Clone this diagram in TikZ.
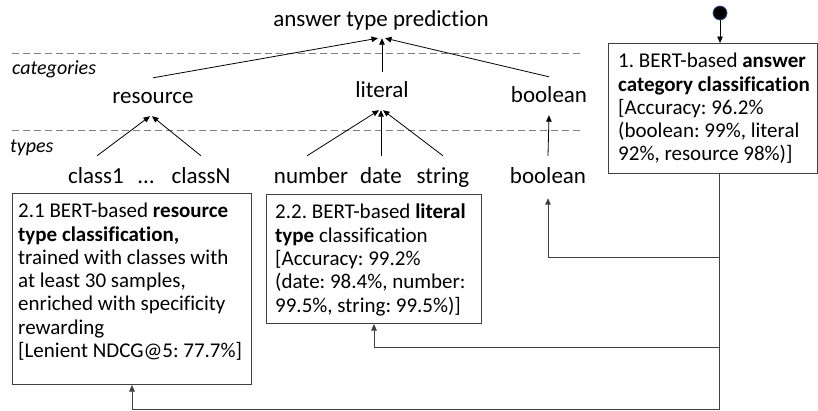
\documentclass[tikz,border=0pt]{standalone}
\usepackage{fontspec}
\setmainfont{Carlito}[Ligatures=NoCommon]
\usetikzlibrary{arrows.meta}
\definecolor{lineg}{HTML}{404040}
\definecolor{dashg}{HTML}{7F7F7F}
\definecolor{dotblue}{HTML}{2F5597}
\frenchspacing
\begin{document}
\begin{tikzpicture}[x=1pt,y=-1pt,
  lbl/.style={font=\fontsize{23}{27}\selectfont, anchor=base, text height=17pt, text depth=5pt, inner xsep=2pt, inner ysep=8pt},
  sect/.style={font=\fontsize{20}{24}\selectfont\itshape, anchor=base west, inner sep=0pt},
  arr/.style={-{Triangle[length=6.5pt,width=5.5pt]}, line width=0.8pt, draw=black},
  conn/.style={-{Triangle[length=6.5pt,width=5.5pt]}, line width=1pt, draw=lineg},
  sep/.style={draw=dashg, line width=0.8pt, dash pattern=on 7pt off 4pt},
  box/.style={draw=lineg, line width=1pt, anchor=north west, inner sep=0pt},
  txt/.style={font=\fontsize{21}{23.3}\selectfont\frenchspacing, align=left, anchor=north west, inner sep=0pt}
]
\useasboundingbox (0,0) rectangle (818,410);

% separators and section labels
\draw[sep] (12,53) -- (580,53);
\draw[sep] (12,130) -- (580,130);
\node[sect] (categories) at (12,74) {categories};
\node[sect] (types) at (10,152) {types};

% hierarchy
\node[lbl, inner ysep=7pt] (atp) at (381,26) {answer type prediction};
\node[lbl] (res) at (153,103) {resource};
\node[lbl] (lit) at (382,97) {literal};
\node[lbl] (boolc) at (549,102) {boolean};
\node[lbl, inner ysep=10pt] (c1) at (96,183) {class1};
\node[lbl, inner ysep=10pt] (dots) at (146,183) {…};
\node[lbl, inner ysep=10pt] (cN) at (201,183) {classN};
\node[lbl, inner ysep=10pt] (num) at (311,183) {number};
\node[lbl, inner ysep=10pt] (date) at (381,183) {date};
\node[lbl, inner ysep=10pt] (str) at (443,183) {string};
\node[lbl, inner ysep=10pt] (boolt) at (548,183) {boolean};

\draw[arr] (res.north) -- ([xshift=-3pt]atp.south);
\draw[arr] (lit.north) -- (lit.north |- atp.south);
\draw[arr] (boolc.north) -- ([xshift=4pt]atp.south);
\draw[arr] ([xshift=1pt]c1.north) -- ([xshift=-3pt]res.south);
\draw[arr] (cN.north) -- ([xshift=-1pt]res.south);
\draw[arr] ([xshift=-4pt]num.north) -- ([xshift=-3pt]lit.south);
\draw[arr] (date.north) -- (date.north |- lit.south);
\draw[arr] (str.north) -- ([xshift=1pt]lit.south);
\draw[arr] (boolt.north) -- (boolc.south);

% boxes
\node[box, minimum width=209pt, minimum height=130pt] (b1) at (608,43) {};
\node[txt] (b1t) at ([shift={(10,10)}]b1.north west) {1. BERT-based \textbf{answer}\\ \textbf{category classification}\\ {[}Accuracy: 96.2\%\\ (boolean: 99\%, literal\\ 92\%, resource 98\%)]};

\node[box, minimum width=239pt, minimum height=191pt] (b21) at (12,193) {};
\node[txt] (b21t) at ([shift={(6,10)}]b21.north west) {2.1 BERT-based \textbf{resource}\\ \textbf{type classification,}\\ trained with classes with\\ at least 30 samples,\\ enriched with specificity\\ rewarding\\ {[}Lenient NDCG@5: 77.7\%]};

\node[box, minimum width=215pt, minimum height=129pt] (b22) at (266,194) {};
\node[txt] (b22t) at ([shift={(9,10)}]b22.north west) {2.2. BERT-based \textbf{literal}\\ \textbf{type} classification\\ {[}Accuracy: 99.2\%\\ (date: 98.4\%, number:\\ 99.5\%, string: 99.5\%)]};

% start dot
\node[circle, fill=black, draw=dotblue, line width=0.8pt, minimum size=14pt, inner sep=0pt] (start) at (720,13) {};
\draw[arr] (start.south) -- (start.south |- b1.north);

% connectors from box 1
\coordinate (trunk) at (719,173);
\draw[conn] (trunk) -- (719,409) -| (b21.south);
\draw[conn] (719,347) -| (b22.south);
\draw[conn] (719,257) -| (boolt.south);
\end{tikzpicture}
\end{document}
